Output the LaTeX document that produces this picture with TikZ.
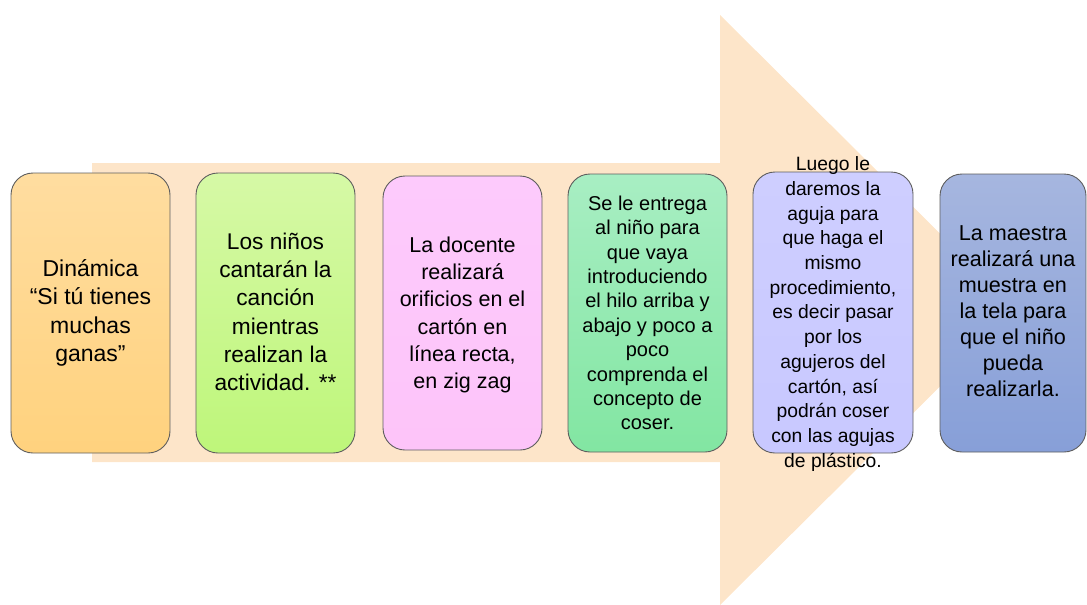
\documentclass[tikz,border=0pt]{standalone}
\usepackage{fontspec}
\setmainfont{Liberation Sans}
\usetikzlibrary{positioning}
\definecolor{arrowc}{HTML}{FDE5C9}
\definecolor{bordc}{HTML}{5E5E5E}
\definecolor{c1t}{HTML}{FFDDA0}
\definecolor{c1b}{HTML}{FFD27E}
\definecolor{c2t}{HTML}{D6F9A6}
\definecolor{c2b}{HTML}{BEF67A}
\definecolor{c3t}{HTML}{FDCAFC}
\definecolor{c3b}{HTML}{FDC4F9}
\definecolor{c4t}{HTML}{A8EEC3}
\definecolor{c4b}{HTML}{82E6A2}
\definecolor{c5t}{HTML}{CECEFF}
\definecolor{c5b}{HTML}{C8C8FF}
\definecolor{c6t}{HTML}{A6B6DF}
\definecolor{c6b}{HTML}{879FD8}
\tikzset{
  card/.style={draw=bordc, line width=0.9pt, rounded corners=22pt, shading=axis, shading angle=0},
  cardtext/.style={align=center, text=black, inner sep=0pt},
}
\begin{document}
\begin{tikzpicture}[x=1pt,y=-1pt]
\useasboundingbox (0,0) rectangle (1087,605);
% big arrow
\fill[arrowc] (92,163) -- (720,163) -- (720,15) -- (1017,310) -- (720,605) -- (720,462) -- (92,462) -- cycle;
% boxes
\path[card, top color=c1t, bottom color=c1b] (11,173) rectangle (170,453);
\path[card, top color=c2t, bottom color=c2b] (196,173) rectangle (355,453);
\path[card, top color=c3t, bottom color=c3b] (383,176) rectangle (542,450);
\path[card, top color=c4t, bottom color=c4b] (568,174) rectangle (727,452);
\path[card, top color=c5t, bottom color=c5b] (753,172) rectangle (913,453);
\path[card, top color=c6t, bottom color=c6b] (940,174) rectangle (1086,452);
% texts
\node[cardtext, font=\fontsize{23}{28.3}\selectfont] (t1) at (90.5,313) {Dinámica\\“Si tú tienes\\muchas\\ganas”};
\node[cardtext, font=\fontsize{22.7}{28.3}\selectfont] (t2) at (275.5,312) {Los niños\\cantarán la\\canción\\mientras\\realizan la\\actividad. **};
\node[cardtext, font=\fontsize{21.5}{27.3}\selectfont] (t3) at (462.5,315) {La docente\\realizará\\orificios en el\\cartón en\\línea recta,\\en zig zag};
\node[cardtext, font=\fontsize{20}{24.4}\selectfont] (t4) at (647.5,313) {Se le entrega\\al niño para\\que vaya\\introduciendo\\el hilo arriba y\\abajo y poco a\\poco\\comprenda el\\concepto de\\coser.};
\node[cardtext, font=\fontsize{19.3}{24.7}\selectfont] (t5) at (833,314) {Luego le\\daremos la\\aguja para\\que haga el\\mismo\\procedimiento,\\es decir pasar\\por los\\agujeros del\\cartón, así\\podrán coser\\con las agujas\\de plástico.};
\node[cardtext, font=\fontsize{21.6}{26}\selectfont] (t6) at (1013,311) {La maestra\\realizará una\\muestra en\\la tela para\\que el niño\\pueda\\realizarla.};
\end{tikzpicture}
\end{document}
